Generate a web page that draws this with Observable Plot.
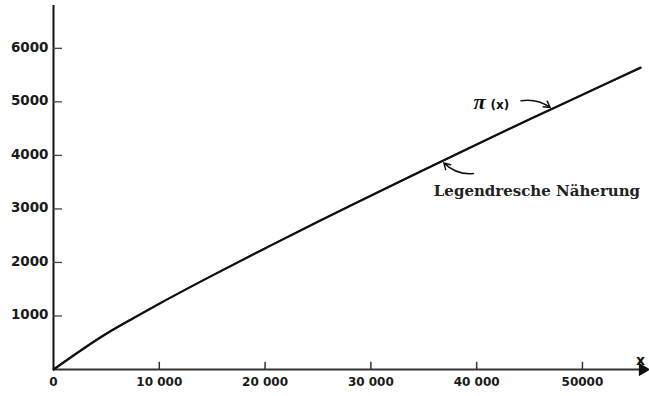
<!DOCTYPE html>
<html>
<head>
<meta charset="utf-8">
<script src="https://cdn.jsdelivr.net/npm/d3@7"></script>
<script src="https://cdn.jsdelivr.net/npm/@observablehq/plot@0.6"></script>
<style>
  html, body { margin: 0; padding: 0; background: #fff; }
  #chart svg { display: block; }
</style>
</head>
<body>
<div id="chart"></div>
<script>
// Data
const xValues      = [0, 5000, 7500, 10000, 15000, 20000, 25000, 30000, 35000, 40000, 45000, 50000, 55500];
const piValues     = [0, 669, 954, 1229, 1754, 2262, 2762, 3245, 3728, 4203, 4675, 5133, 5640];
const legendreVals = [0, 672, 956, 1231, 1758, 2268, 2765, 3252, 3731, 4204, 4672, 5135, 5632];

const xTicks      = [0, 10000, 20000, 30000, 40000, 50000];
const xTickLabels = ["0", "10 000", "20 000", "30 000", "40 000", "50000"];
const yTicks      = [1000, 2000, 3000, 4000, 5000, 6000];
const yTickLabels = ["1000", "2000", "3000", "4000", "5000", "6000"];

// Annotations (data coordinates)
const piLabel       = {x: 39700, y: 5000, text: "π"};
const piArgLabel    = {x: 41300, y: 5000, text: "(x)"};
const piArrow       = {x1: 44200, y1: 5020, x2: 46950, y2: 4895};
const legLabel      = {x: 45700, y: 3330, text: "Legendresche Näherung"};
const legArrow      = {x1: 39700, y1: 3660, x2: 36900, y2: 3860};
const axisXName     = {x: 55480, y: 170, text: "x"};
const axisEnd       = 55700;

const piData  = xValues.map((x, i) => ({x, y: piValues[i]}));
const legData = xValues.map((x, i) => ({x, y: legendreVals[i]}));
const xLabelMap = new Map(xTicks.map((t, i) => [t, xTickLabels[i]]));
const yLabelMap = new Map(yTicks.map((t, i) => [t, yTickLabels[i]]));

const sans = "'DejaVu Sans', sans-serif";
const serif = "'DejaVu Serif', serif";

const chart = Plot.plot({
  width: 649,
  height: 396,
  marginLeft: 53,
  marginRight: 2,
  marginTop: 5,
  marginBottom: 27,
  style: {fontFamily: sans, background: "#fff"},
  x: {domain: [0, 56150], axis: null},
  y: {domain: [0, 6800], axis: null},
  marks: [
    // axis lines
    Plot.ruleX([0], {stroke: "#111", strokeWidth: 2}),
    Plot.ruleY([0], {x1: 0, x2: axisEnd, stroke: "#333", strokeWidth: 2}),
    Plot.dot([{x: axisEnd, y: 0}], {x: "x", y: "y", symbol: "triangle", rotate: 90, r: 5, fill: "#111", stroke: "none"}),
    // ticks (inside)
    Plot.ruleY(yTicks, {y: d => d, x1: 0, x2: 850, stroke: "#444", strokeWidth: 1.3}),
    Plot.ruleX(xTicks.slice(1), {x: d => d, y1: 0, y2: 135, stroke: "#333", strokeWidth: 1.5}),
    // tick labels
    Plot.axisY(yTicks, {tickSize: 0, tickPadding: 5, tickFormat: d => yLabelMap.get(d), fontSize: 13.5, fontWeight: "bold", fill: "#1a1a1a", dy: -1}),
    Plot.axisX(xTicks, {tickSize: 0, tickPadding: 8, tickFormat: d => xLabelMap.get(d), fontSize: 12, fontWeight: "bold", fill: "#1a1a1a"}),
    Plot.text([axisXName], {x: "x", y: "y", text: "text", fontSize: 14, fontWeight: "bold", fill: "#111"}),
    // curves
    Plot.line(legData, {x: "x", y: "y", curve: "monotone-x", stroke: "#222", strokeWidth: 1.6}),
    Plot.line(piData, {x: "x", y: "y", curve: "monotone-x", stroke: "#111", strokeWidth: 2.2}),
    // annotations
    Plot.text([piLabel], {x: "x", y: "y", text: "text", textAnchor: "start", fontFamily: "'Liberation Serif', serif", fontStyle: "italic", fontWeight: "bold", fontSize: 22, fill: "#111"}),
    Plot.text([piArgLabel], {x: "x", y: "y", text: "text", dy: 3, textAnchor: "start", fontFamily: sans, fontWeight: "bold", fontSize: 12, fill: "#111"}),
    Plot.arrow([piArrow], {x1: "x1", y1: "y1", x2: "x2", y2: "y2", bend: 22, headLength: 7, stroke: "#111", strokeWidth: 1.5}),
    Plot.text([legLabel], {x: "x", y: "y", text: "text", fontFamily: serif, fontWeight: "bold", fontSize: 15, fill: "#222"}),
    Plot.arrow([legArrow], {x1: "x1", y1: "y1", x2: "x2", y2: "y2", bend: 25, headLength: 7, stroke: "#111", strokeWidth: 1.5})
  ]
});
document.getElementById("chart").appendChild(chart);
</script>
</body>
</html>
